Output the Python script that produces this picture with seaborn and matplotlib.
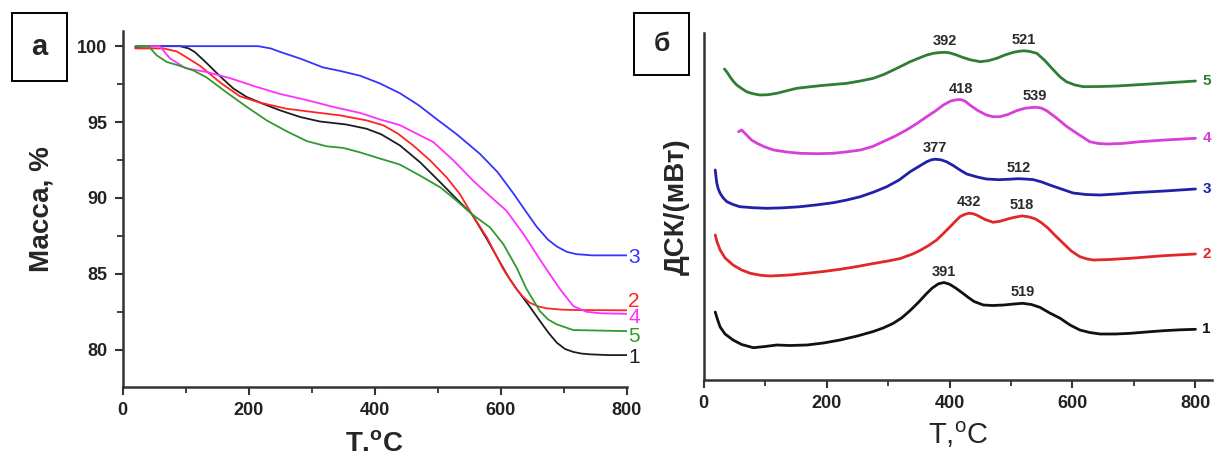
import numpy as np
import pandas as pd
import matplotlib
matplotlib.use("Agg")
import matplotlib.pyplot as plt
from matplotlib.patches import Rectangle
from matplotlib.ticker import MultipleLocator
import seaborn as sns

# ---------------- TG data (mass loss, %) ----------------
tg_T1 = [20, 55, 91, 105, 115, 133, 155, 176, 197, 223, 250, 282, 313, 355, 387, 410, 440, 472, 504, 530, 554, 578, 599, 612, 625, 645, 662, 676, 689, 702, 715, 728, 742, 770, 800]
tg_M1 = [99.95, 100, 100, 99.85, 99.6, 98.9, 98.0, 97.2, 96.65, 96.2, 95.77, 95.33, 95.04, 94.84, 94.56, 94.2, 93.46, 92.35, 91.03, 89.93, 88.94, 87.29, 85.74, 84.8, 84.0, 82.9, 81.9, 81.1, 80.46, 80.05, 79.86, 79.75, 79.7, 79.65, 79.65]

tg_T2 = [20, 65, 86, 100, 123, 155, 186, 218, 260, 302, 345, 387, 414, 437, 461, 488, 514, 535, 554, 578, 604, 615, 625, 635, 646, 660, 673, 695, 715, 800]
tg_M2 = [99.85, 99.85, 99.65, 99.3, 98.7, 97.6, 96.7, 96.28, 95.88, 95.66, 95.44, 95.11, 94.78, 94.23, 93.46, 92.47, 91.36, 90.26, 88.94, 87.4, 85.3, 84.6, 84.0, 83.5, 83.1, 82.85, 82.73, 82.65, 82.62, 82.6]

tg_T3 = [22, 60, 120, 180, 215, 235, 250, 282, 318, 345, 377, 408, 440, 470, 498, 530, 567, 595, 620, 640, 657, 675, 689, 705, 720, 745, 800]
tg_M3 = [100, 100, 100, 100, 100, 99.85, 99.62, 99.18, 98.6, 98.37, 98.05, 97.55, 96.9, 96.1, 95.2, 94.2, 92.9, 91.7, 90.3, 89.1, 88.1, 87.25, 86.8, 86.45, 86.3, 86.22, 86.22]

tg_T4 = [35, 59, 75, 100, 133, 170, 210, 250, 292, 334, 377, 410, 440, 472, 493, 525, 556, 588, 609, 636, 667, 694, 715, 736, 760, 800]
tg_M4 = [100, 100, 99.2, 98.55, 98.3, 97.9, 97.35, 96.85, 96.45, 96.0, 95.6, 95.15, 94.8, 94.12, 93.68, 92.47, 91.14, 89.93, 89.16, 87.62, 85.64, 83.99, 82.88, 82.5, 82.4, 82.37]

tg_T5 = [20, 41, 54, 70, 91, 112, 133, 165, 197, 229, 260, 292, 324, 350, 377, 408, 440, 472, 504, 530, 554, 583, 604, 625, 641, 662, 675, 689, 715, 800]
tg_M5 = [100, 100, 99.4, 98.96, 98.7, 98.4, 97.95, 96.95, 96.0, 95.1, 94.4, 93.75, 93.4, 93.3, 93.0, 92.6, 92.2, 91.47, 90.7, 89.82, 88.94, 88.06, 86.96, 85.42, 83.99, 82.55, 82.0, 81.67, 81.3, 81.23]

tg_names = ["1", "2", "3", "4", "5"]
tg_colors = ["#1e1e1e", "#ff2424", "#3434ff", "#ff30ff", "#2f9a2f"]
tg_label_y = [79.5, 83.2, 86.1, 82.1, 80.9]

# ---------------- DSC data (arbitrary units, curves stacked) ----------------
dsc_T1 = [19, 23, 27, 35, 48, 62, 81, 100, 119, 140, 168, 195, 222, 250, 276, 292, 308, 322, 336, 350, 362, 372, 382, 391, 400, 410, 420, 430, 440, 455, 470, 488, 505, 519, 533, 547, 563, 580, 596, 612, 628, 645, 670, 694, 720, 748, 775, 800]
dsc_Y1 = [68, 60, 53, 46, 40, 35.5, 32.3, 33.5, 35, 34.5, 35, 37, 40, 44, 48.5, 52, 56.5, 62, 69.5, 78, 86, 92, 96.2, 97.5, 95.8, 92, 87.5, 82.8, 78.5, 75, 74.5, 75, 76, 76.7, 75.5, 72.7, 67, 61.7, 55, 50, 47.5, 46, 46, 46.7, 48, 49.3, 50.2, 50.7]

dsc_T2 = [19, 22, 27, 35, 48, 62, 76, 92, 108, 140, 168, 195, 222, 250, 276, 300, 320, 340, 352, 366, 379, 390, 401, 410, 417, 424, 432, 438, 444, 458, 471, 482, 493, 504, 518, 530, 540, 550, 560, 571, 585, 598, 612, 624, 634, 660, 694, 748, 800]
dsc_Y2 = [145, 138, 130, 122, 115, 110, 106.7, 104.8, 104, 105, 106.7, 108.5, 110.7, 113.5, 116.5, 119, 121.5, 126, 129.5, 134.5, 140, 146.5, 153.3, 159, 163.3, 165.5, 166.8, 166.3, 165, 160.5, 157.7, 158.7, 160.7, 162.5, 164.1, 163, 161, 157, 152, 145, 136.7, 129, 123.3, 121, 120, 120.5, 121.7, 124.3, 126]

dsc_T3 = [19, 21.5, 24, 27, 32, 38, 48, 59, 80, 103, 130, 157, 185, 211, 233, 255, 277, 298, 318, 336, 350, 363, 371, 377, 386, 395, 406, 417, 428, 445, 460, 480, 498, 512, 525, 536, 550, 563, 582, 601, 622, 645, 672, 699, 750, 800]
dsc_Y3 = [210, 197, 191, 186.7, 182, 178.3, 175.5, 173.3, 172.3, 171.7, 172.2, 173.3, 175.2, 177.3, 180, 183.3, 188, 193.3, 200, 208.3, 213.5, 218.3, 220.3, 220.8, 220.2, 218.3, 214.5, 210, 206, 203, 201, 200.3, 200.8, 201.3, 200.9, 200.4, 198, 195, 191, 187, 185.5, 185, 186, 187.3, 189, 191]

dsc_T4 = [57, 62, 66, 70, 78, 87, 100, 114, 135, 157, 185, 211, 235, 255, 275, 292, 312, 330, 347, 363, 377, 390, 402, 412, 418, 425, 433, 446, 460, 471, 482, 495, 509, 523, 539, 549, 558, 574, 591, 610, 628, 642, 656, 680, 710, 750, 800]
dsc_Y4 = [248.3, 250, 247.5, 245, 240, 236.7, 233, 230, 228, 226.7, 226.3, 226.7, 228.3, 230, 233.5, 238.3, 244, 250, 256.5, 263.3, 269, 275, 279, 280.3, 280.5, 279, 275, 269.5, 265, 263.3, 263.3, 265.5, 269.3, 271.8, 272.8, 272, 269.3, 262, 253.3, 245.5, 238.3, 236.5, 236, 236.5, 238.3, 240, 241.7]

dsc_T5 = [34, 38, 43, 48, 54, 62, 70, 80, 92, 105, 119, 135, 151.5, 170, 189, 211, 233, 255, 276, 293, 308.6, 322, 336, 350, 363, 375, 385, 392, 400, 410, 422, 435, 450, 463, 477, 490, 504, 514, 521, 530, 542, 555, 569, 580, 590, 604, 618, 645, 672, 726, 800]
dsc_Y5 = [311, 308, 303.3, 299, 295, 291.5, 288.3, 286.3, 285, 285.3, 286.7, 289.2, 291.7, 293, 294.3, 295.5, 296.7, 299, 301.7, 305.5, 310, 314, 318.3, 321.8, 325, 326.8, 327.5, 327.7, 327.2, 325.3, 322.5, 320, 318.3, 319.3, 321.7, 325, 327.7, 328.8, 329.2, 328.6, 326.7, 319.5, 310, 303, 298.3, 295, 293.3, 293.5, 294, 296, 299]

dsc_names = ["1", "2", "3", "4", "5"]
dsc_colors = ["#111111", "#e02828", "#2020a8", "#d83ed8", "#2e7f34"]
dsc_peaks = [[391, 519], [432, 518], [377, 512], [418, 539], [392, 521]]

tg_T = [tg_T1, tg_T2, tg_T3, tg_T4, tg_T5]
tg_M = [tg_M1, tg_M2, tg_M3, tg_M4, tg_M5]
dsc_T = [dsc_T1, dsc_T2, dsc_T3, dsc_T4, dsc_T5]
dsc_Y = [dsc_Y1, dsc_Y2, dsc_Y3, dsc_Y4, dsc_Y5]

tg_df = pd.concat([pd.DataFrame({"T": t, "M": m, "s": n}) for t, m, n in zip(tg_T, tg_M, tg_names)])
dsc_df = pd.concat([pd.DataFrame({"T": t, "Y": y, "s": n}) for t, y, n in zip(dsc_T, dsc_Y, dsc_names)])

# ---------------- style ----------------
sns.set_theme(style="ticks")
plt.rcParams["font.family"] = ["Liberation Sans", "DejaVu Sans"]
plt.rcParams["mathtext.fontset"] = "custom"
plt.rcParams["mathtext.rm"] = "Liberation Sans"
plt.rcParams["mathtext.bf"] = "Liberation Sans:bold"
plt.rcParams["lines.solid_joinstyle"] = "round"
plt.rcParams["lines.solid_capstyle"] = "round"
axis_col = "#333333"

fig = plt.figure(figsize=(12.21, 4.59), dpi=100)
ax1 = fig.add_axes([0.1004, 0.1569, 0.4130, 0.7756])
ax2 = fig.add_axes([0.5762, 0.1721, 0.4165, 0.7560])

# ---- TG panel ----
for name, col in zip(tg_names, tg_colors):
    sub = tg_df[tg_df["s"] == name]
    sns.lineplot(data=sub, x="T", y="M", ax=ax1, color=col, linewidth=1.3,
                 estimator=None, sort=False, legend=False)
for name, col, ly in zip(tg_names, tg_colors, tg_label_y):
    ax1.text(802, ly, name, color=col, fontsize=15, ha="left", va="center", clip_on=False)

ax1.set_xlim(0, 800)
ax1.set_ylim(77.55, 101)
ax1.xaxis.set_major_locator(MultipleLocator(200))
ax1.xaxis.set_minor_locator(MultipleLocator(100))
ax1.yaxis.set_minor_locator(MultipleLocator(2.5))
ax1.set_yticks([80, 85, 90, 95, 100])
ax1.set_xlabel("T.$^{\\mathbf{o}}$C", fontsize=20, fontweight="bold", labelpad=9)
ax1.set_ylabel("Масса, %", fontsize=20, fontweight="bold", labelpad=16)

# ---- DSC panel ----
for name, col in zip(dsc_names, dsc_colors):
    sub = dsc_df[dsc_df["s"] == name]
    sns.lineplot(data=sub, x="T", y="Y", ax=ax2, color=col, linewidth=2.0,
                 estimator=None, sort=False, legend=False)
for t, y, name, col, peaks in zip(dsc_T, dsc_Y, dsc_names, dsc_colors, dsc_peaks):
    ax2.text(818, y[-1], name, color=col, fontsize=11, fontweight="bold",
             ha="center", va="center", clip_on=False)
    for p in peaks:
        ax2.text(p, np.interp(p, t, y) + 11, str(p), color="#2a2a2a", fontsize=10.5,
                 fontweight="bold", ha="center", va="center")

ax2.set_xlim(0, 827)
ax2.set_ylim(0, 347)
ax2.xaxis.set_minor_locator(MultipleLocator(100))
ax2.set_xticks([0, 200, 400, 600, 800])
ax2.set_yticks([])
ax2.set_xlabel("T,$^{\\mathrm{o}}$C", fontsize=21, labelpad=5)
ax2.set_ylabel("ДСК/(мВт)", fontsize=20, fontweight="bold", labelpad=10)

for ax in (ax1, ax2):
    sns.despine(ax=ax)
    for sp in ("left", "bottom"):
        ax.spines[sp].set_linewidth(1.8)
        ax.spines[sp].set_color(axis_col)
    ax.tick_params(which="major", length=6, width=1.5, color=axis_col, pad=5,
                   labelsize=13, labelcolor="#222222")
    ax.tick_params(which="minor", length=4, width=1.3, color=axis_col)
    for lab in ax.get_xticklabels() + ax.get_yticklabels():
        lab.set_fontweight("bold")

# ---- panel letters ----
W, H = 1221, 459
for (x0, y0, x1, y1), letter, fs in [((12, 13, 67, 81), "а", 21), ((634, 13, 689, 75), "б", 19)]:
    fig.patches.append(Rectangle((x0 / W, 1 - y1 / H), (x1 - x0) / W, (y1 - y0) / H,
                                 transform=fig.transFigure, fill=False,
                                 edgecolor="black", linewidth=1.4))
    fig.text((x0 + x1) / 2 / W, 1 - (y0 + y1) / 2 / H, letter, fontsize=fs,
             fontweight="bold", ha="center", va="center")

fig.savefig("out.png", dpi=100)
